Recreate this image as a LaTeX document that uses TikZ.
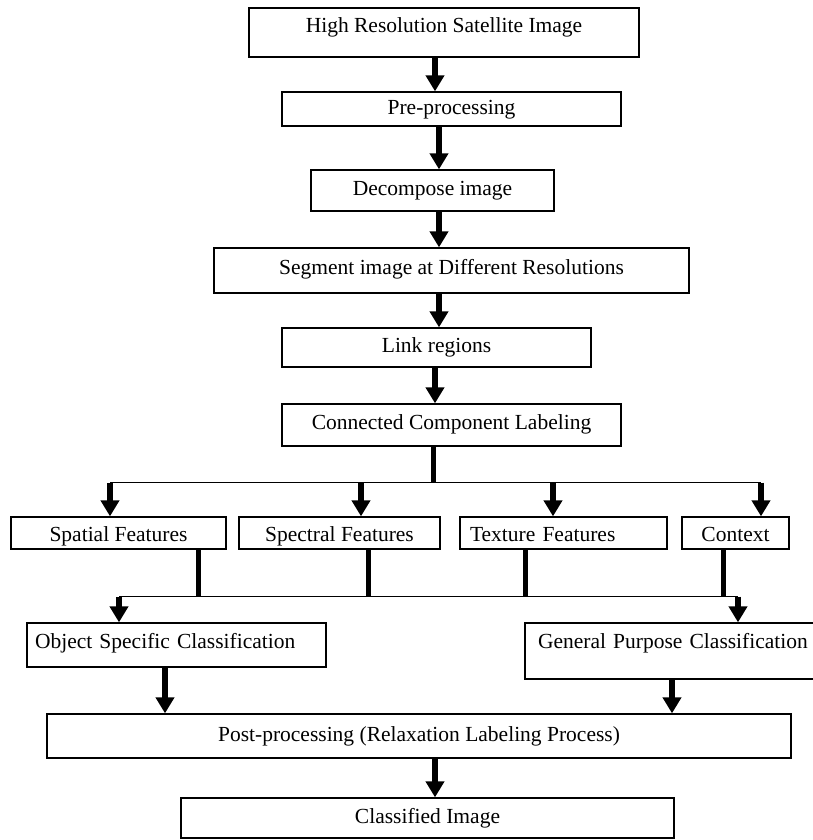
\documentclass[tikz,border=0pt]{standalone}
\usepackage{fontspec}
\setmainfont{Liberation Serif}
\usetikzlibrary{arrows.meta}
\begin{document}
\begin{tikzpicture}[x=1pt,y=-1pt,
  box/.style={draw,line width=1.3pt,rectangle,inner sep=0pt,
    text height=15pt,text depth=5pt,font=\fontsize{21.5}{24}\selectfont},
  lbox/.style={box,align=left},
  arr/.style={line width=6.5pt,-{Triangle[width=18pt,length=16pt]}},
  stem/.style={line width=5pt},
  bus/.style={line width=1.3pt}]
\useasboundingbox (0,0) rectangle (812,840);
% main chain
\node[box,minimum width=390pt,minimum height=49pt] (hr) at (444,32.5) {\raisebox{4.5pt}{High Resolution Satellite Image}};
\node[box,minimum width=339pt,minimum height=34pt] (pre) at (451.5,109) {Pre-processing};
\node[box,minimum width=243pt,minimum height=41pt] (dec) at (432.5,190.5) {Decompose image};
\node[box,minimum width=475pt,minimum height=45pt] (seg) at (451.5,270.5) {\raisebox{1.5pt}{Segment image at Different Resolutions}};
\node[box,minimum width=309pt,minimum height=39pt] (link) at (436.5,347.5) {Link regions};
\node[box,minimum width=339pt,minimum height=42pt] (ccl) at (451.5,425) {\raisebox{1pt}{Connected Component Labeling}};
% features
\node[box,minimum width=215pt,minimum height=32pt] (spa) at (118.5,533) {\raisebox{-3pt}{Spatial Features}};
\node[box,minimum width=201pt,minimum height=32pt] (spe) at (339.5,533) {\raisebox{-3pt}{Spectral Features}};
\node[lbox,minimum height=32pt,text width=187pt,inner xsep=10pt] (tex) at (563.5,533) {\raisebox{-3pt}{Texture Features}};
\node[box,minimum width=107pt,minimum height=32pt] (ctx) at (735.5,533) {\raisebox{-3pt}{Context}};
% classification
\node[lbox,minimum height=44pt,text width=283pt,inner xsep=8pt] (obj) at (176.5,645) {\raisebox{2pt}{Object Specific Classification}};
\node[lbox,minimum height=56pt,text width=265pt,inner xsep=13pt] (gen) at (670.5,651) {\raisebox{8pt}{\mbox{General Purpose Classification}}};
\node[box,minimum width=744pt,minimum height=44pt] (post) at (419,736) {Post-processing (Relaxation Labeling Process)};
\node[box,minimum width=493pt,minimum height=40pt] (cls) at (427.5,818) {Classified Image};
% chain arrows
\draw[arr] ([xshift=-9pt]hr.south) -- ([xshift=-9pt]hr.south |- pre.north);
\draw[arr] ([xshift=-12.5pt]pre.south) -- ([xshift=-12.5pt]pre.south |- dec.north);
\draw[arr] ([xshift=6.5pt]dec.south) -- ([xshift=6.5pt]dec.south |- seg.north);
\draw[arr] ([xshift=-12.5pt]seg.south) -- ([xshift=-12.5pt]seg.south |- link.north);
\draw[arr] ([xshift=-1.5pt]link.south) -- ([xshift=-1.5pt]link.south |- ccl.north);
% upper bus
\draw[stem] ([xshift=-18.5pt]ccl.south) -- ++(0,36) coordinate (j0);
\coordinate (bl) at ([xshift=-8.5pt]spa.north |- j0);
\coordinate (br) at ([xshift=25.5pt]ctx.north |- j0);
\draw[bus] (bl) -- (br);
\draw[arr] (bl) -- ([xshift=-8.5pt]spa.north);
\draw[arr] ([xshift=21.5pt]spe.north |- j0) -- ([xshift=21.5pt]spe.north);
\draw[arr] ([xshift=-10.5pt]tex.north |- j0) -- ([xshift=-10.5pt]tex.north);
\draw[arr] (br) -- ([xshift=25.5pt]ctx.north);
% lower bus
\draw[stem] ([xshift=79.5pt]spa.south) -- ++(0,47) coordinate (j1);
\draw[stem] ([xshift=28.5pt]spe.south) -- ([xshift=28.5pt]spe.south |- j1);
\draw[stem] ([xshift=-38.5pt]tex.south) -- ([xshift=-38.5pt]tex.south |- j1);
\draw[stem] ([xshift=-12.5pt]ctx.south) -- ([xshift=-12.5pt]ctx.south |- j1);
\coordinate (cl) at ([xshift=-57.5pt]obj.north |- j1);
\coordinate (cr) at ([xshift=67.5pt]gen.north |- j1);
\draw[bus] (cl) -- (cr);
\draw[arr] (cl) -- ([xshift=-57.5pt]obj.north);
\draw[arr] (cr) -- ([xshift=67.5pt]gen.north);
% to post-processing and final
\draw[arr] ([xshift=-11.5pt]obj.south) -- ([xshift=-11.5pt]obj.south |- post.north);
\draw[arr] ([xshift=1.5pt]gen.south) -- ([xshift=1.5pt]gen.south |- post.north);
\draw[arr] ([xshift=16pt]post.south) -- ([xshift=16pt]post.south |- cls.north);
\end{tikzpicture}
\end{document}
